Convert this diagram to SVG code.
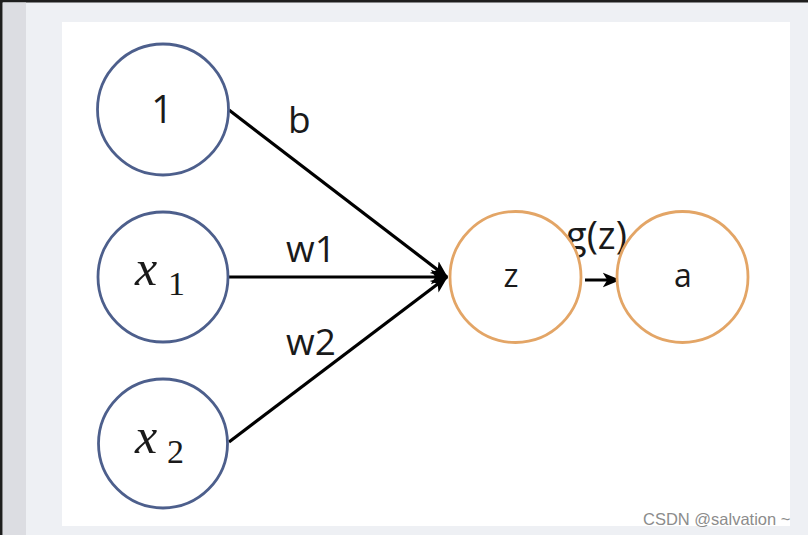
<svg xmlns="http://www.w3.org/2000/svg" width="808" height="535" viewBox="0 0 808 535">
<style>
.in{fill:#fff;stroke:#4d5f8c;stroke-width:2.8}
.out{fill:#fff;stroke:#e3a566;stroke-width:2.8}
.lbl{font-family:"Open Sans","Liberation Sans",sans-serif;fill:#1a1a1a}
.math{font-family:"Liberation Serif","DejaVu Serif",serif;fill:#1a1a1a}
.edge{stroke:#000;stroke-width:3.2;fill:none}
</style>
<defs>
<marker id="ah" viewBox="0 0 12 10" refX="11" refY="5" markerWidth="5.5" markerHeight="5" orient="auto" markerUnits="strokeWidth">
<path d="M0,0 L12,5 L0,10 L3,5 z" fill="#000"/>
</marker>
</defs>
<rect width="808" height="535" fill="#eef0f4"/>
<rect x="0" y="0" width="808" height="2.5" fill="#1e1e1e"/>
<rect x="0" y="0" width="2.5" height="535" fill="#1e1e1e"/>
<rect x="3" y="2.5" width="23" height="532.5" fill="#dcdde2"/>
<rect x="62" y="22" width="728" height="504" fill="#fff"/>
<g id="edges">
<line class="edge" x1="229" y1="110" x2="447" y2="277" marker-end="url(#ah)"/>
<line class="edge" x1="229" y1="277" x2="447" y2="277" marker-end="url(#ah)"/>
<line class="edge" x1="229" y1="442" x2="447" y2="277" marker-end="url(#ah)"/>
<line class="edge" x1="585" y1="280" x2="619" y2="280" marker-end="url(#ah)"/>
<text class="lbl" x="288" y="133" font-size="37">b</text>
<text class="lbl" x="286" y="262" font-size="37">w1</text>
<text class="lbl" x="286" y="355" font-size="37">w2</text>
<text class="lbl" x="566" y="249" font-size="38">g(z)</text>
</g>
<g id="node-1">
<circle class="in" cx="163" cy="109.5" r="65.5"/>
<text class="lbl" x="162" y="123" font-size="38" text-anchor="middle">1</text>
</g>
<g id="node-x1">
<circle class="in" cx="163" cy="277" r="65"/>
<text class="math" x="135" y="285" font-size="50" font-style="italic">x</text>
<text class="math" x="168" y="295" font-size="34">1</text>
</g>
<g id="node-x2">
<circle class="in" cx="163" cy="443.5" r="64.5"/>
<text class="math" x="135" y="453" font-size="50" font-style="italic">x</text>
<text class="math" x="167" y="463" font-size="34">2</text>
</g>
<g id="node-z">
<circle class="out" cx="515.5" cy="277" r="65.5"/>
<text class="lbl" x="511" y="287" font-size="32" text-anchor="middle">z</text>
</g>
<g id="node-a">
<circle class="out" cx="682.5" cy="277" r="65.5"/>
<text class="lbl" x="683" y="287" font-size="32" text-anchor="middle">a</text>
</g>
<text x="643" y="525" font-family="'Liberation Sans',Arial,sans-serif" font-size="16.5" fill="#8c8c8c">CSDN @salvation ~</text>
</svg>
